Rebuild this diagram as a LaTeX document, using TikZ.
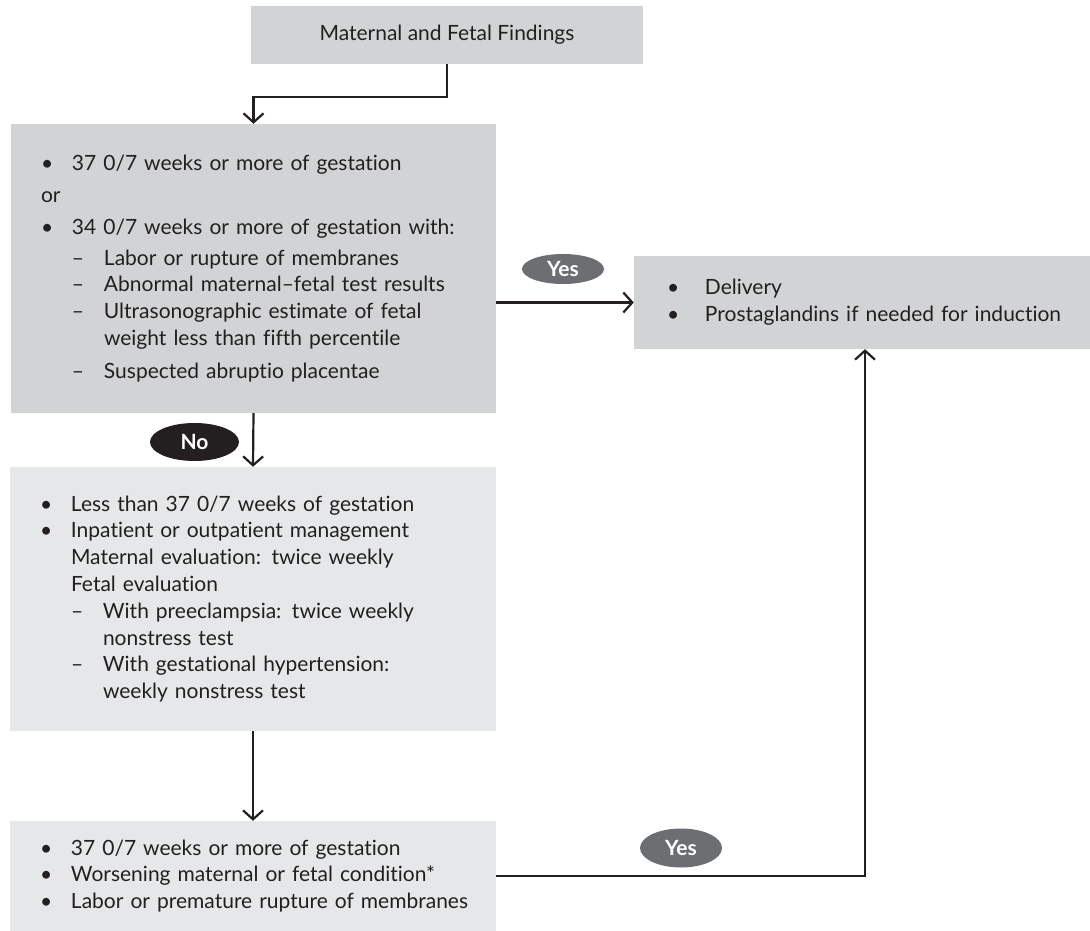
\documentclass[tikz,border=0pt]{standalone}
\usepackage{fontspec}
\setmainfont{Lato}[Ligatures={TeX,NoCommon}]
\usetikzlibrary{arrows.meta,shapes.geometric}
\definecolor{boxdark}{HTML}{D1D3D4}
\definecolor{boxlight}{HTML}{E6E7E8}
\definecolor{ink}{HTML}{231F20}
\definecolor{yesgray}{HTML}{6D6E71}
\newcommand{\lead}[1][30pt]{\hspace*{#1}}
\newcommand{\bul}[1][30pt]{\lead[#1]\makebox[31pt][l]{\textbullet}}
\newcommand{\dsh}{\lead[61pt]\makebox[32pt][l]{--}}
\newcommand{\ind}{\lead[93pt]}
\tikzset{box/.style={rectangle,inner sep=0pt,text=ink,font=\fontsize{21}{26.8}\selectfont},
  listbox/.style={box,align=left,text width=486pt,minimum width=486pt},
  tag/.style={ellipse,inner sep=0pt,text=white,font=\fontsize{21}{21}\selectfont\bfseries,minimum width=82pt,minimum height=30pt},
  arr/.style={draw=ink,line width=2.2pt,-{Straight Barb[length=9pt,width=20pt]}}}

\begin{document}
\begin{tikzpicture}[x=1pt,y=-1pt]
      \useasboundingbox (0,0) rectangle (1090,931);
      \node[box,fill=boxdark,minimum width=392pt,minimum height=58pt] (findings) at (447,35) {Maternal and Fetal Findings};
      \node[listbox,fill=boxdark,text width=485pt,minimum width=485pt,minimum height=289pt] (crit) at (253.5,268.5) {%
        \bul 37 0/7 weeks or more of gestation\\[5pt]
        \lead or\\[5pt]
        \bul 34 0/7 weeks or more of gestation with:\\[4pt]
        \dsh Labor or rupture of membranes\\
        \dsh Abnormal maternal--fetal test results\\
        \dsh Ultrasonographic estimate of fetal\\
        \ind weight less than fifth percentile\\[6pt]
        \dsh Suspected abruptio placentae};
      \node[listbox,fill=boxdark,text width=456pt,minimum width=456pt,minimum height=93pt] (deliv) at (862,302.5) {%
        \bul[33pt] Delivery\\
        \bul[33pt] Prostaglandins if needed for induction};
      \node[listbox,fill=boxlight,minimum height=264pt] (manage) at (253,599) {%
        \bul Less than 37 0/7 weeks of gestation\\
        \bul Inpatient or outpatient management\\
        \lead[61pt]Maternal evaluation: twice weekly\\
        \lead[61pt]Fetal evaluation\\
        \dsh With preeclampsia: twice weekly\\
        \ind nonstress test\\
        \dsh With gestational hypertension:\\
        \ind weekly nonstress test};
      \node[listbox,fill=boxlight,minimum height=110pt] (worse) at (253,876) {%
        \bul 37 0/7 weeks or more of gestation\\
        \bul Worsening maternal or fetal condition*\\
        \bul Labor or premature rupture of membranes};

      \node[tag,fill=yesgray] (yesA) at (563,269) {Yes};
      \node[tag,fill=ink,minimum width=89pt,minimum height=38pt] (no) at (194.5,442) {No};
      \node[tag,fill=yesgray,minimum height=39pt] (yesB) at (681,848) {Yes};

      \draw[arr] (findings.south) -- ++(0,33) -| (crit.north);
      \draw[arr] (crit.east |- deliv.west) -- (deliv.west);
      \draw[arr] (crit.south) -- (manage.north);
      \draw[arr] (manage.south) -- (worse.north);
      \draw[arr] (worse.east) -| ([xshift=3pt]deliv.south);
\end{tikzpicture}
\end{document}
